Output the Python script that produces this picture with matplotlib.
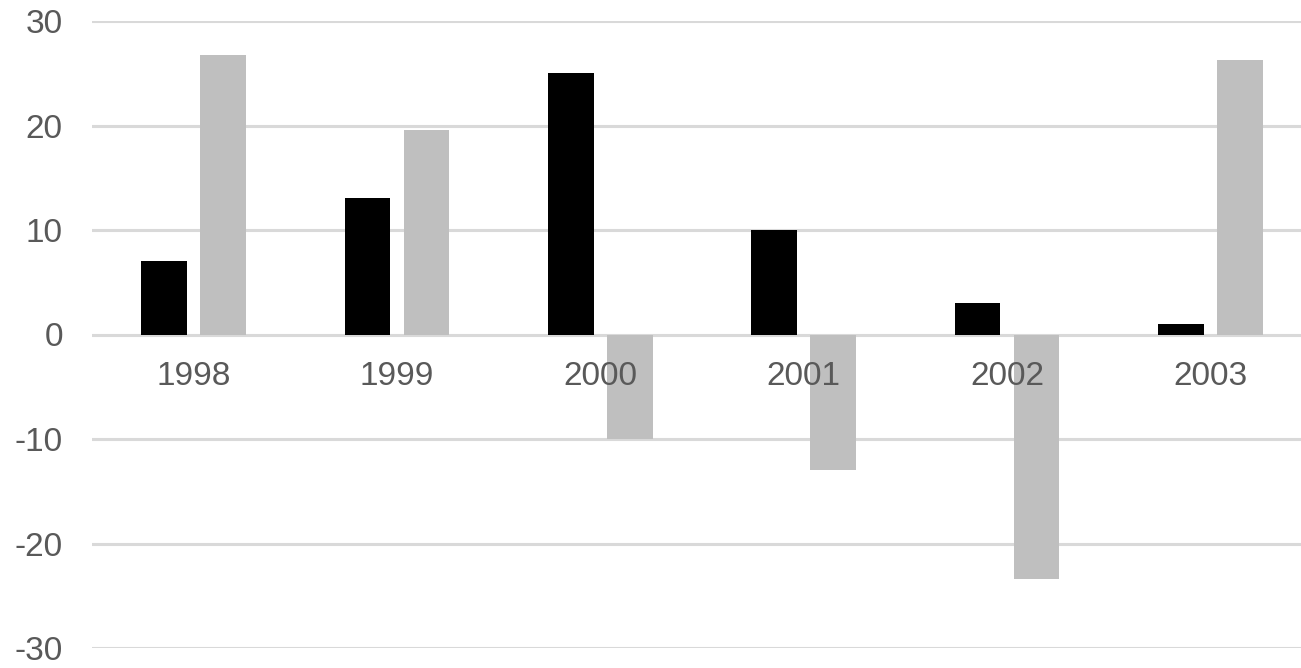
import matplotlib.pyplot as plt
import matplotlib.transforms as mtransforms
import numpy as np

years = ['1998', '1999', '2000', '2001', '2002', '2003']
series_a = [7, 13.1, 25, 10, 3, 1]
series_b = [26.7, 19.6, -10, -13, -23.4, 26.3]

plt.rcParams['font.family'] = ['Liberation Sans', 'DejaVu Sans']
plt.rcParams['axes.unicode_minus'] = False

W, H = 1301, 668
fig = plt.figure(figsize=(W / 100, H / 100), dpi=100)
left, right = 92, 1312
top, bottom = 21, 648
ax = fig.add_axes([left / W, (H - bottom) / H, (right - left) / W, (bottom - top) / H])

x = np.arange(len(years))
w = 0.226
off = 0.145
ax.bar(x - off, series_a, width=w, color='#000000', zorder=3)
ax.bar(x + off, series_b, width=w, color='#bfbfbf', zorder=3)

ax.set_xlim(-0.5, len(years) - 0.5)
ax.set_ylim(-30, 30)
ax.set_yticks(range(-30, 31, 10))
ax.yaxis.grid(True, color='#d9d9d9', lw=2.2, zorder=0)
ax.set_axisbelow(True)
for s in ax.spines.values():
    s.set_visible(False)

# category labels sit under the zero line, drawn over the bars
ax.set_xticks([])
lab_tr = mtransforms.offset_copy(ax.transData, fig=fig, x=0, y=-19, units='points')
for xi, yr in zip(x, years):
    ax.text(xi, 0, yr, transform=lab_tr, ha='center', va='top',
            fontsize=24, color='#595959', zorder=5)

ax.tick_params(axis='y', length=0, labelsize=24, labelcolor='#595959', pad=21)

fig.savefig('out.png', dpi=100)
